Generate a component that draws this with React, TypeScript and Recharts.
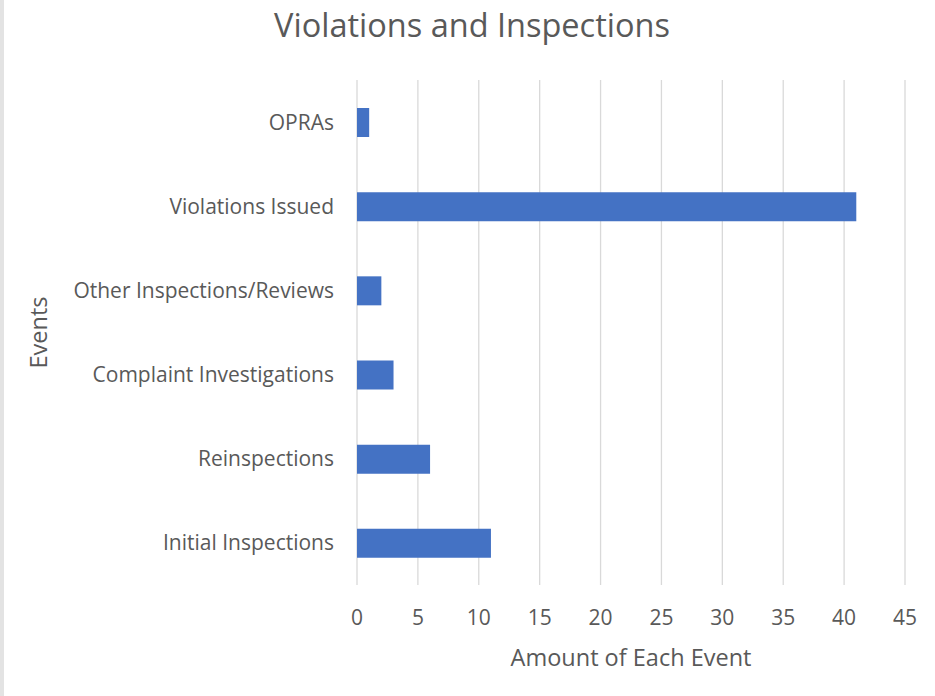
import React from 'react';
import { BarChart, Bar, XAxis, YAxis, CartesianGrid, Label } from 'recharts';

const categories = [
  'OPRAs',
  'Violations Issued',
  'Other Inspections/Reviews',
  'Complaint Investigations',
  'Reinspections',
  'Initial Inspections',
];
const amounts = [1, 41, 2, 3, 6, 11];
const xTicks = [0, 5, 10, 15, 20, 25, 30, 35, 40, 45];

const data = categories.map((name, i) => ({ name, value: amounts[i] }));

const FONT = '"Open Sans", "Noto Sans", sans-serif';
const TEXT = '#595959';

export default function App() {
  return (
    <div
      style={{
        position: 'absolute',
        left: 0,
        top: 0,
        width: 935,
        height: 696,
        background: '#ffffff',
        fontFamily: FONT,
        overflow: 'hidden',
      }}
    >
      <div style={{ position: 'absolute', left: 0, top: 0, width: 4, height: 696, background: '#e3e3e3' }} />
      <div
        style={{
          position: 'absolute',
          left: 0,
          top: 0,
          width: 944,
          textAlign: 'center',
          fontSize: 32.5,
          lineHeight: '50px',
          color: TEXT,
          fontFamily: FONT,
        }}
      >
        Violations and Inspections
      </div>
      <BarChart
        width={935}
        height={696}
        data={data}
        layout="vertical"
        margin={{ top: 80, right: 30, bottom: 0, left: 0 }}
      >
        <CartesianGrid horizontal={false} vertical={true} stroke="#d9d9d9" strokeWidth={1.3} />
        <XAxis
          type="number"
          domain={[0, 45]}
          ticks={xTicks}
          interval={0}
          axisLine={false}
          tickLine={false}
          tickSize={0}
          tickMargin={25}
          height={111}
          tick={{ fill: TEXT, fontSize: 21, fontFamily: FONT }}
        >
          <Label
            value="Amount of Each Event"
            position="insideBottom"
            offset={30}
            style={{ fill: TEXT, fontSize: 23.5, fontFamily: FONT }}
          />
        </XAxis>
        <YAxis
          type="category"
          dataKey="name"
          width={357}
          axisLine={false}
          tickLine={false}
          tickSize={0}
          tickMargin={23}
          interval={0}
          tick={{ fill: TEXT, fontSize: 21, fontFamily: FONT }}
        >
          <Label
            content={({ viewBox }: any) => {
              const vb = viewBox || { x: 0, y: 0, height: 0 };
              const cx = vb.x + 38;
              const cy = vb.y + vb.height / 2;
              return (
                <text
                  x={cx}
                  y={cy}
                  transform={`rotate(-90, ${cx}, ${cy})`}
                  textAnchor="middle"
                  dominantBaseline="central"
                  fill={TEXT}
                  fontSize={23.5}
                  fontFamily={FONT}
                >
                  Events
                </text>
              );
            }}
          />
        </YAxis>
        <Bar dataKey="value" fill="#4472c4" barSize={29} isAnimationActive={false} />
      </BarChart>
    </div>
  );
}
